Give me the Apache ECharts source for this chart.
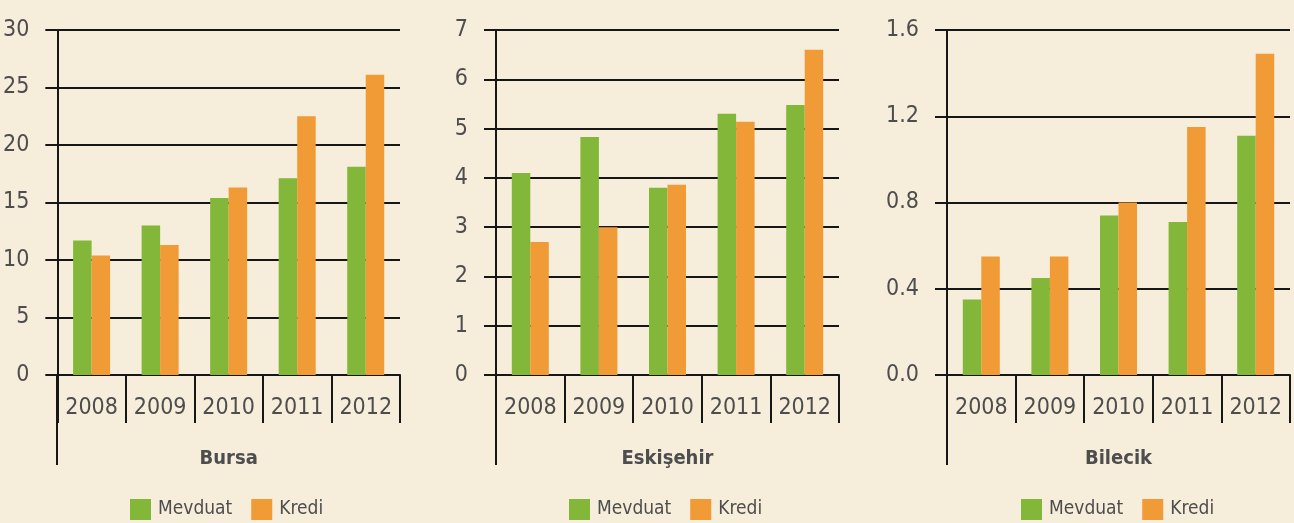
<!DOCTYPE html>
<html>
<head>
<meta charset="utf-8">
<style>
    html, body { margin: 0; padding: 0; background: #f6eddb; }
    #mainChart { width: 1294px; height: 523px; }
</style>
<script src="https://cdn.jsdelivr.net/npm/echarts@6/dist/echarts.min.js"></script>
</head>
<body>
<div id="mainChart"></div>
<script>
// veriler
const years = ['2008', '2009', '2010', '2011', '2012'];
const cities = ['Bursa', 'Eskişehir', 'Bilecik'];
const bursaMevduat = [11.7, 13.0, 15.4, 17.1, 18.1];
const bursaKredi = [10.4, 11.3, 16.3, 22.5, 26.1];
const eskisehirMevduat = [4.1, 4.83, 3.8, 5.3, 5.48];
const eskisehirKredi = [2.7, 3.0, 3.86, 5.14, 6.6];
const bilecikMevduat = [0.35, 0.45, 0.74, 0.71, 1.11];
const bilecikKredi = [0.55, 0.55, 0.80, 1.15, 1.49];
const axisMax = [30, 7, 1.6];
const axisInterval = [5, 1, 0.4];

const FONT = '"Liberation Sans Narrow", "DejaVu Sans Condensed", "Roboto", sans-serif';
const GREEN = '#82b73a';
const ORANGE = '#f09b36';
const TEXT = '#4d4d4d';
const LINE = '#161616';

/**
 * panelleri çiz
 */
function initChart() {
    let chart = echarts.init(document.getElementById('mainChart'));

    let lefts = [57, 496, 947];
    let legendLefts = [130, 569, 1021];
    let mevduat = [bursaMevduat, eskisehirMevduat, bilecikMevduat];
    let kredi = [bursaKredi, eskisehirKredi, bilecikKredi];
    // ortadaki panelde sayılar çizginin biraz üstünde duruyor
    let yLabelPadding = [[0, 0, 0, 0], [0, 0, 12, 0], [0, 0, 0, 0]];
    let gridTop = 30, gridHeight = 345, gridWidth = 343;

    let grids = [], xAxes = [], yAxes = [], series = [], legends = [], graphics = [];

    for (let i = 0; i < 3; i++) {
        grids.push({left: lefts[i], top: gridTop, width: gridWidth, height: gridHeight});

        xAxes.push({
            gridIndex: i,
            type: 'category',
            data: years,
            name: cities[i],
            nameLocation: 'middle',
            nameGap: 74,
            nameTextStyle: {fontFamily: FONT, fontSize: 20, fontWeight: 'bold', color: TEXT},
            axisLine: {lineStyle: {color: LINE, width: 2}},
            axisTick: {show: true, interval: 0, alignWithLabel: false, length: 48, lineStyle: {color: LINE, width: 2}},
            axisLabel: {interval: 0, fontFamily: FONT, fontSize: 23, color: TEXT, margin: 22}
        });

        yAxes.push({
            gridIndex: i,
            type: 'value',
            min: 0,
            max: axisMax[i],
            interval: axisInterval[i],
            axisLine: {show: true, lineStyle: {color: LINE, width: 2}},
            axisTick: {show: true, length: 12, lineStyle: {color: LINE, width: 2}},
            splitLine: {lineStyle: {color: LINE, width: 2}},
            axisLabel: {
                fontFamily: FONT, fontSize: 23, color: TEXT, margin: 28,
                padding: yLabelPadding[i],
                formatter: i === 2 ? (v) => v.toFixed(1) : (v) => String(v)
            }
        });

        series.push({
            name: 'Mevduat', type: 'bar', xAxisIndex: i, yAxisIndex: i,
            data: mevduat[i], barWidth: 18.5, barGap: '0%',
            itemStyle: {color: GREEN}
        });
        series.push({
            name: 'Kredi', type: 'bar', xAxisIndex: i, yAxisIndex: i,
            data: kredi[i], barWidth: 18.5, barGap: '0%',
            itemStyle: {color: ORANGE}
        });

        legends.push({
            left: legendLefts[i],
            top: 499,
            padding: 0,
            icon: 'rect',
            itemWidth: 21,
            itemHeight: 21,
            itemGap: 19,
            textStyle: {fontFamily: FONT, fontSize: 19, color: TEXT, padding: [0, 0, 0, 2]},
            data: ['Mevduat', 'Kredi']
        });

        // y ekseni alta doğru uzantısı
        graphics.push({
            type: 'line',
            shape: {x1: lefts[i], y1: gridTop + gridHeight, x2: lefts[i], y2: 465},
            style: {stroke: LINE, lineWidth: 2}
        });
    }

    chart.setOption({
        backgroundColor: '#f6eddb',
        animation: false,
        color: [GREEN, ORANGE],
        grid: grids,
        xAxis: xAxes,
        yAxis: yAxes,
        legend: legends,
        series: series,
        graphic: graphics
    });
}

initChart();
</script>
</body>
</html>
